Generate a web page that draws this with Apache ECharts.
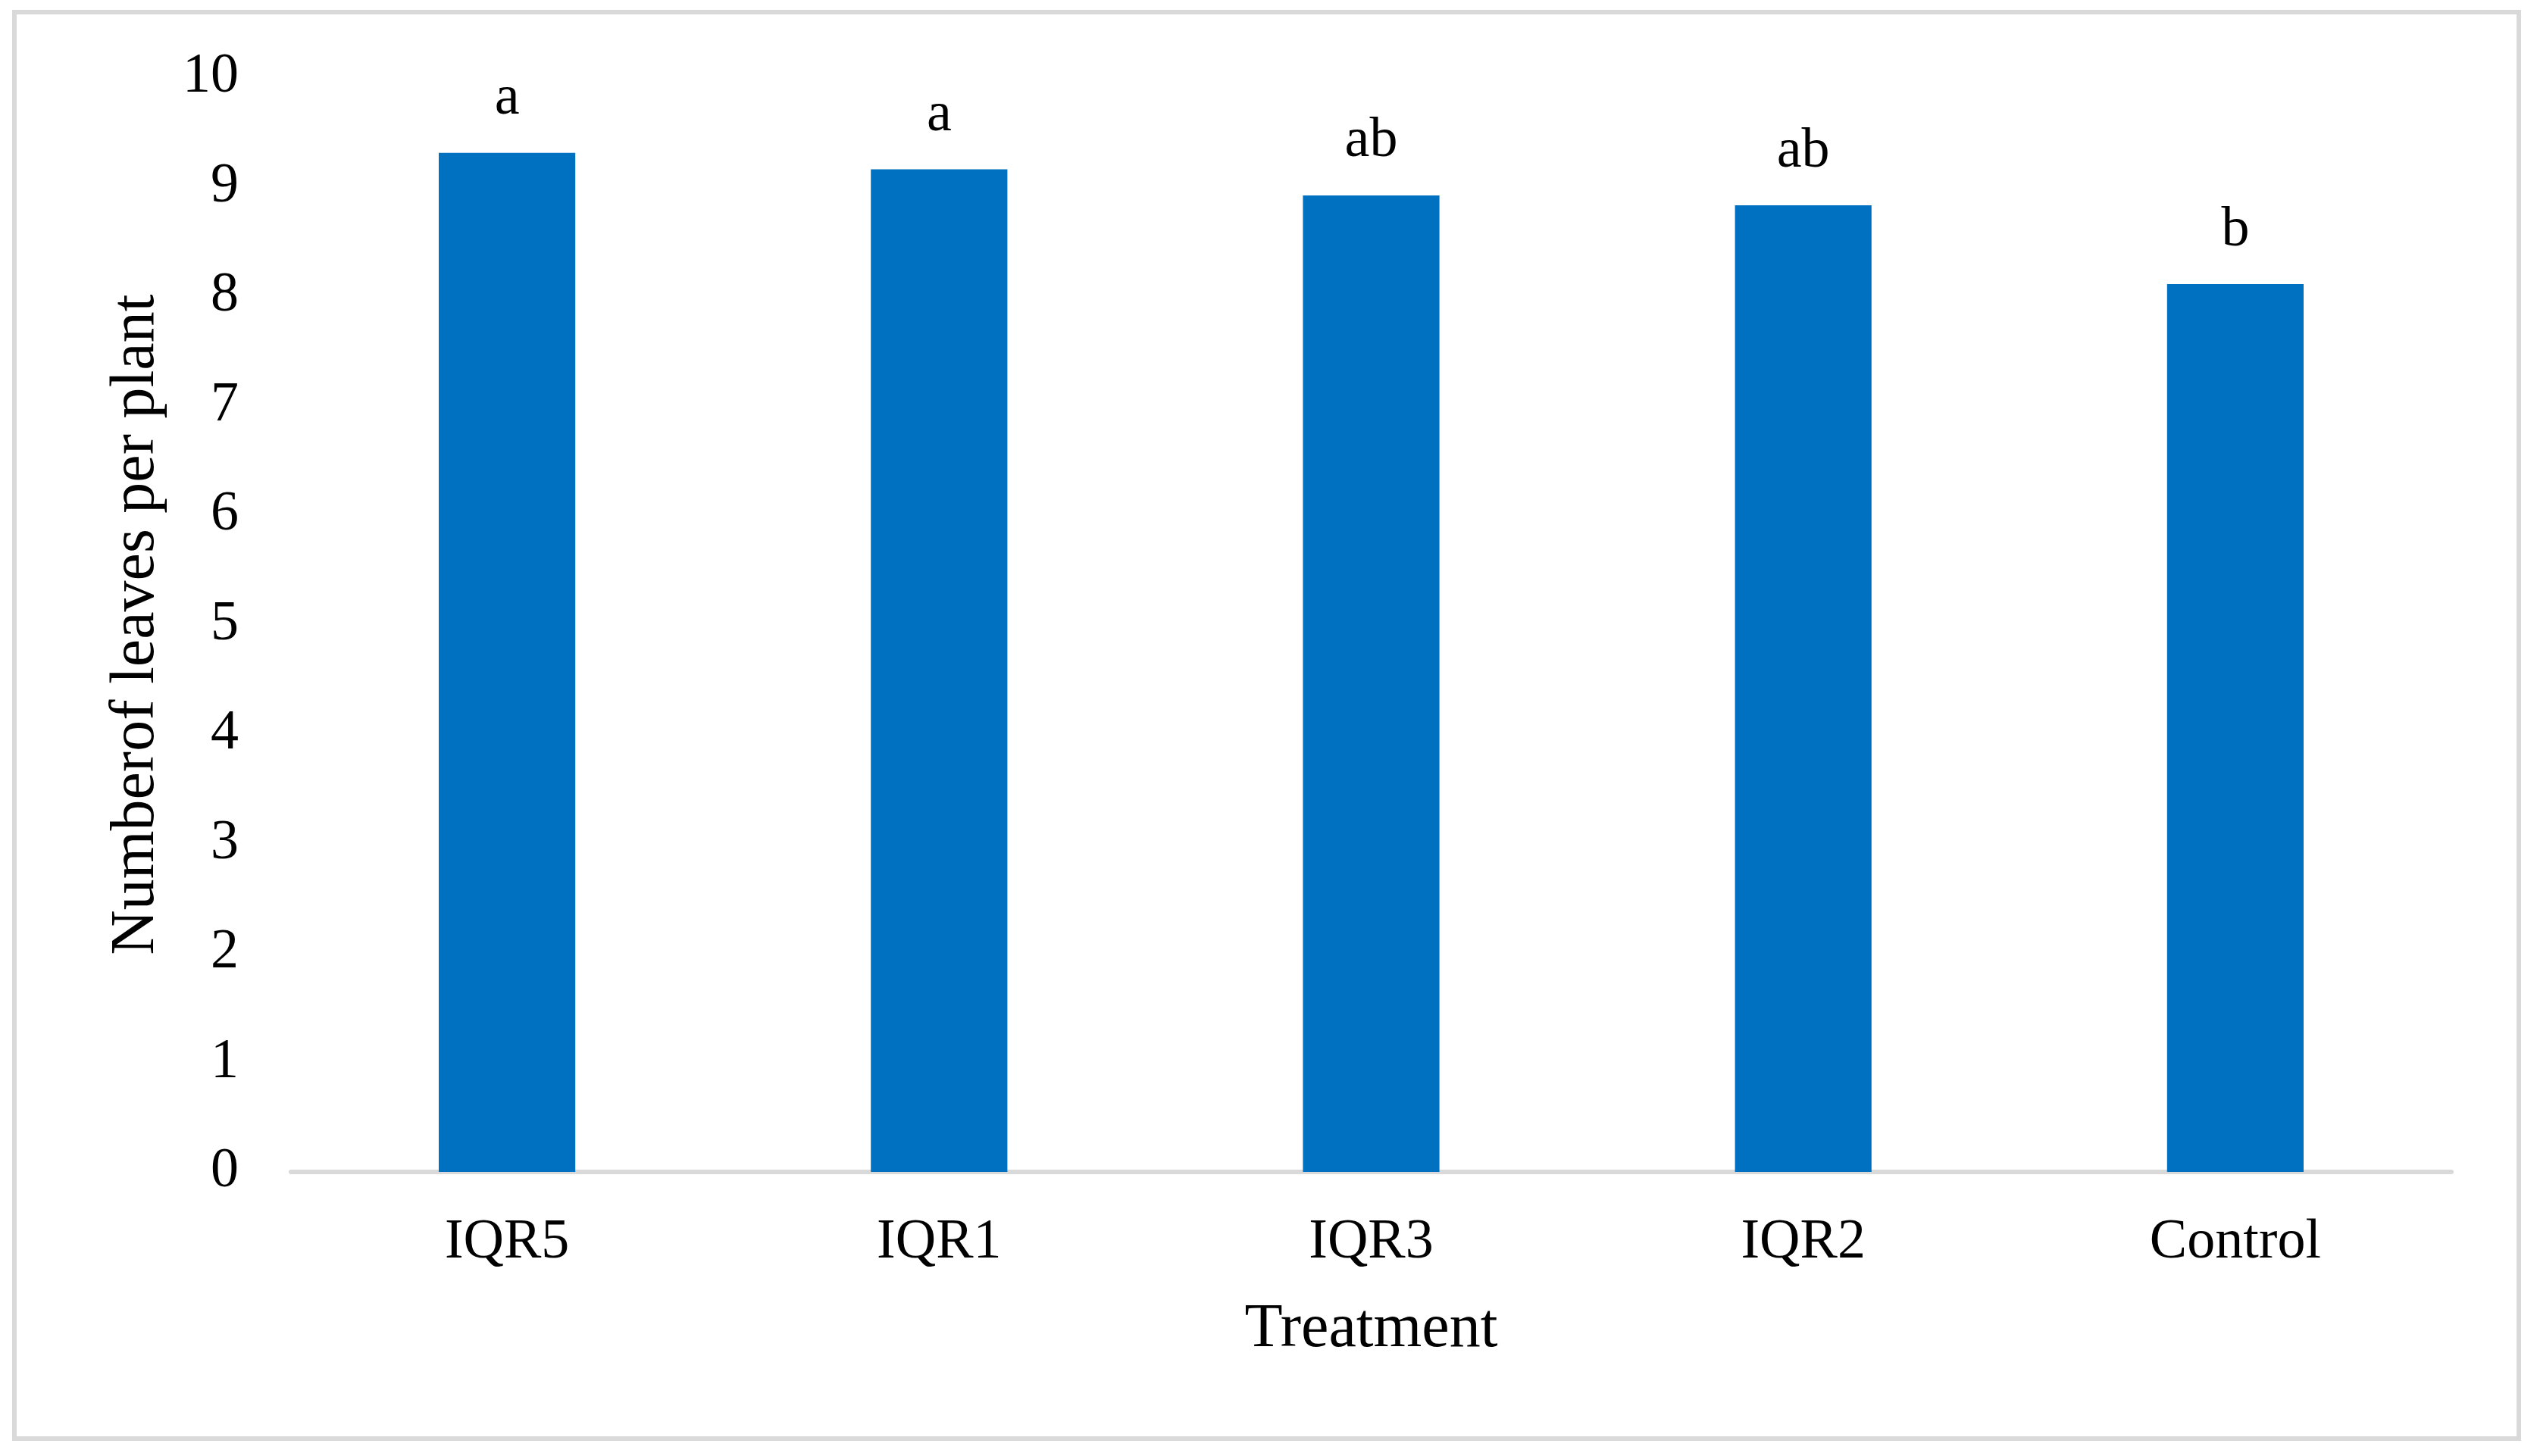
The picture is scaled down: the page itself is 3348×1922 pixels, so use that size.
<!DOCTYPE html>
<html>
<head>
<meta charset="utf-8">
<script src="https://cdn.jsdelivr.net/npm/echarts@6/dist/echarts.min.js"></script>
<style>
html,body{margin:0;padding:0;background:#fff;}
#chart{width:3348px;height:1922px;}
</style>
</head>
<body>
<div id="chart"></div>
<script>
const categories = ['IQR5', 'IQR1', 'IQR3', 'IQR2', 'Control'];
const leavesPerPlant = [9.31, 9.16, 8.92, 8.83, 8.11];
const letters = ['a', 'a', 'ab', 'ab', 'b'];
const yTicks = [0, 1, 2, 3, 4, 5, 6, 7, 8, 9, 10];

const FONT = "'Liberation Serif', 'Times New Roman', serif";
const chart = echarts.init(document.getElementById('chart'), null, {renderer: 'canvas'});

chart.setOption({
  backgroundColor: '#ffffff',
  animation: false,
  textStyle: {fontFamily: FONT, color: '#000'},
  graphic: [{
    type: 'rect',
    shape: {x: 19, y: 16, width: 3305, height: 1883},
    style: {fill: 'none', stroke: '#d9d9d9', lineWidth: 6},
    silent: true
  }],
  grid: {left: 384, right: 113, top: 102, bottom: 375},
  xAxis: {
    type: 'category',
    data: categories,
    name: 'Treatment',
    nameLocation: 'middle',
    nameGap: 167,
    nameTextStyle: {fontFamily: FONT, fontSize: 82, color: '#000'},
    axisLine: {show: true, lineStyle: {color: '#d9d9d9', width: 6}},
    axisTick: {show: false},
    axisLabel: {fontFamily: FONT, fontSize: 74, color: '#000', margin: 57},
    splitLine: {show: false}
  },
  yAxis: {
    type: 'value',
    min: yTicks[0],
    max: yTicks[yTicks.length - 1],
    interval: 1,
    name: 'Numberof leaves per plant',
    nameLocation: 'middle',
    nameGap: 163,
    nameRotate: 90,
    nameTextStyle: {fontFamily: FONT, fontSize: 82, color: '#000'},
    axisLine: {show: false},
    axisTick: {show: false},
    splitLine: {show: false},
    axisLabel: {fontFamily: FONT, fontSize: 74, color: '#000', margin: 69, padding: [18, 0, 0, 0]}
  },
  series: [{
    type: 'bar',
    data: leavesPerPlant,
    barWidth: '31.6%',
    itemStyle: {color: '#0070c0'},
    label: {
      show: true,
      position: 'top',
      distance: 34,
      fontFamily: FONT,
      fontSize: 74,
      color: '#000',
      formatter: p => letters[p.dataIndex]
    }
  }]
});
</script>
</body>
</html>
